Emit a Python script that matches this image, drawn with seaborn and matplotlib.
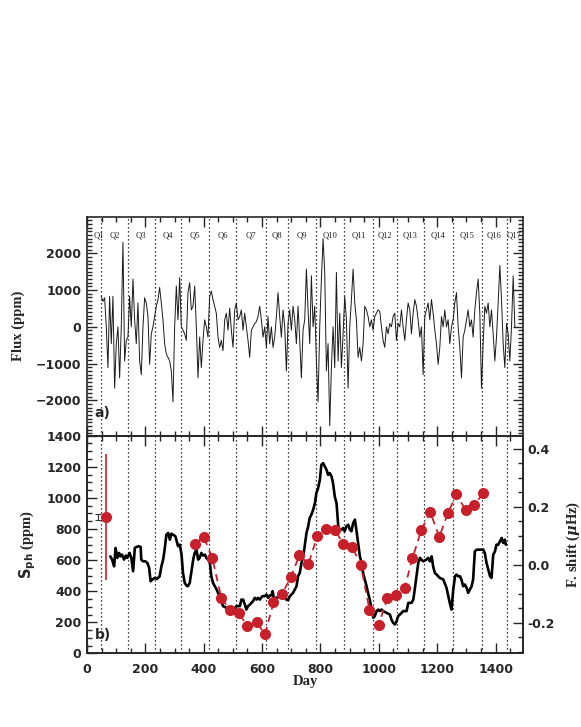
import matplotlib
matplotlib.use('Agg')
import matplotlib.pyplot as plt
import matplotlib.transforms as mtransforms
from matplotlib.ticker import MultipleLocator
import numpy as np
import pandas as pd
import seaborn as sns

# Kepler quarter boundaries (days) and names
quarter_edges = [29, 49.5, 140, 232, 323, 419, 510, 615, 688, 786, 881, 979,
                 1062, 1154, 1253, 1352, 1439, 1487]
quarter_names = ['Q1', 'Q2', 'Q3', 'Q4', 'Q5', 'Q6', 'Q7', 'Q8', 'Q9', 'Q10',
                 'Q11', 'Q12', 'Q13', 'Q14', 'Q15', 'Q16', 'Q17']

# a) light curve (regular cadence from day 49 to 1466)
flux_first_day, flux_last_day = 49, 1466
flux_ppm = [
    830, 690, 790, 0, -1110, 830, -460, 830, -1670, -460,
    0, -1390, 0, 2300, -930, -370, -280, 830, 0, 1300,
    190, -460, 650, -930, -1300, 0, 790, 650, 280, -1020,
    -190, 0, 280, 560, 740, 1070, 650, 190, -460, -740,
    -830, -930, -1200, -2040, 0, 1110, 190, 1340, 0, -90,
    -190, -370, 930, 1200, 460, 560, 1110, 0, -1390, -280,
    -1110, -370, 190, 0, -280, 830, 970, 740, 560, 370,
    -280, -560, -370, -650, 190, 370, -90, 510, -90, -560,
    460, 650, 190, 280, 460, -90, 370, 0, -370, -830,
    -90, 0, 90, 140, 280, 560, 190, -280, 0, -560,
    280, -460, 0, -560, -280, 280, 930, 280, -280, 460,
    0, -1200, 90, 460, -90, 560, 190, -460, 560, -370,
    -1390, -90, 190, 1570, 460, -460, 1390, 0, 560, -930,
    -2040, 0, 1300, 2400, 1480, -1200, -460, -2690, -1110, 0,
    -1110, 1480, -930, 370, -1110, -190, 830, 190, -1670, 0,
    740, 1570, 650, 190, -830, -560, -930, -460, 560, 460,
    280, 0, 190, -90, 280, 370, 460, 420, 0, -370,
    -560, 0, -190, 90, 0, 280, 370, -370, 90, 0,
    460, 0, -370, 190, 650, 460, -190, 370, 740, 560,
    190, -280, 0, -1300, 280, 460, 650, 190, 740, 370,
    -90, -460, -1020, -560, 280, 0, 460, 0, 190, -460,
    0, 190, 650, 930, 0, -560, -1390, -280, -90, 190,
    460, 0, 190, -280, 460, 930, 1300, 370, -1670, -460,
    560, 370, 650, 0, 460, -190, -930, -280, 650, 1670,
    740, -460, -1110, 90, -190, -930, 0, 1390, 0,
]

# b) photometric activity proxy S_ph
sph_day = [
    80, 86, 93, 98, 104, 110, 114, 120, 127, 133,
    138, 146, 152, 158, 164, 169, 178, 184, 186, 192,
    200, 207, 213, 218, 224, 232, 240, 249, 255, 261,
    266, 272, 278, 284, 289, 295, 303, 312, 318, 324,
    329, 335, 341, 346, 352, 358, 364, 369, 375, 381,
    386, 392, 398, 404, 409, 415, 421, 426, 432, 438,
    444, 449, 455, 461, 466, 478, 489, 501, 512, 524,
    529, 535, 541, 546, 552, 558, 569, 575, 581, 586,
    592, 601, 609, 615, 621, 626, 632, 636, 640, 649,
    661, 672, 683, 689, 695, 706, 718, 723, 729, 735,
    741, 746, 752, 758, 763, 769, 775, 781, 786, 792,
    798, 803, 809, 815, 821, 826, 832, 838, 843, 849,
    855, 861, 866, 872, 878, 883, 889, 895, 901, 906,
    912, 918, 923, 929, 935, 941, 946, 952, 958, 963,
    969, 975, 981, 986, 992, 998, 1003, 1009, 1015, 1026,
    1038, 1043, 1049, 1055, 1061, 1066, 1072, 1078, 1083, 1095,
    1101, 1106, 1112, 1118, 1123, 1129, 1135, 1141, 1146, 1152,
    1163, 1169, 1175, 1181, 1186, 1192, 1198, 1209, 1221, 1232,
    1243, 1249, 1255, 1261, 1266, 1272, 1278, 1283, 1289, 1295,
    1301, 1306, 1312, 1318, 1323, 1329, 1335, 1346, 1358, 1363,
    1369, 1375, 1381, 1386, 1392, 1398, 1403, 1409, 1415, 1421,
    1426, 1432, 1435,
]
sph_ppm = [
    624, 603, 560, 678, 614, 646, 624, 635, 603, 629,
    614, 646, 614, 528, 678, 684, 689, 684, 603, 592,
    592, 582, 550, 464, 475, 485, 479, 496, 560, 603,
    667, 763, 774, 731, 770, 763, 753, 689, 699, 635,
    517, 453, 436, 432, 453, 528, 603, 646, 667, 603,
    614, 646, 629, 635, 614, 603, 582, 496, 453, 432,
    411, 389, 368, 336, 304, 293, 293, 282, 304, 304,
    346, 346, 314, 282, 304, 314, 336, 357, 346, 357,
    346, 368, 368, 378, 357, 372, 374, 400, 357, 357,
    368, 378, 346, 342, 368, 389, 432, 496, 517, 582,
    624, 689, 774, 817, 870, 892, 924, 966, 1031, 1063,
    1116, 1212, 1223, 1202, 1180, 1148, 1159, 1137, 1095, 1009,
    966, 817, 795, 795, 806, 785, 817, 827, 795, 785,
    838, 860, 795, 710, 624, 582, 517, 475, 432, 389,
    346, 282, 229, 239, 272, 282, 272, 282, 272, 261,
    250, 218, 197, 186, 207, 239, 250, 261, 272, 272,
    325, 325, 325, 346, 411, 496, 582, 614, 603, 592,
    603, 614, 592, 624, 560, 517, 507, 485, 475, 421,
    325, 282, 411, 496, 507, 496, 496, 475, 432, 443,
    421, 389, 411, 432, 475, 656, 667, 667, 667, 646,
    582, 539, 496, 485, 635, 656, 699, 699, 720, 742,
    710, 731, 699,
]

# b) p-mode frequency shifts (right axis)
shift_day = [369, 400, 429, 460, 490, 520, 550, 581, 610, 639, 669, 698, 728,
             759, 789, 818, 850, 878, 909, 938, 968, 999, 1029, 1058, 1088,
             1115, 1146, 1176, 1207, 1237, 1266, 1297, 1327, 1358]
shift_uhz = [0.073, 0.096, 0.025, -0.113, -0.157, -0.168, -0.211, -0.199,
             -0.240, -0.130, -0.100, -0.043, 0.033, 0.004, 0.098, 0.123,
             0.119, 0.073, 0.061, 0.000, -0.155, -0.207, -0.116, -0.103,
             -0.081, 0.022, 0.121, 0.183, 0.096, 0.180, 0.243, 0.190,
             0.207, 0.248]

# representative error bars
shift_err_day, shift_err_value, shift_err_size = 66, 0.165, 0.219
sph_err_day, sph_err_value, sph_err_size = 38, 877, 22

RED = '#c8202a'

df_flux = pd.DataFrame({'day': np.linspace(flux_first_day, flux_last_day, len(flux_ppm)),
                        'flux': flux_ppm})
df_sph = pd.DataFrame({'day': sph_day, 'sph': sph_ppm})
df_shift = pd.DataFrame({'day': shift_day, 'shift': shift_uhz})

sns.set_style('ticks')
plt.rcParams['font.family'] = ['DejaVu Sans']
plt.rcParams['font.weight'] = 'bold'
plt.rcParams['axes.linewidth'] = 1.2
plt.rcParams['font.size'] = 9

fig = plt.figure(figsize=(5.81, 7.27), dpi=100)
ax1 = fig.add_axes([0.1497, 0.4008, 0.751, 0.3011])
ax2 = fig.add_axes([0.1497, 0.1012, 0.751, 0.2996])
ax2r = ax2.twinx()

label_font = dict(family='Liberation Serif', weight='bold', size=10.5)

# quarter boundaries
for ax in (ax1, ax2):
    for e in quarter_edges[1:-1]:
        ax.axvline(e, color='black', lw=0.9, ls=(0, (1, 2.2)), zorder=1)

# ---- panel a
sns.lineplot(data=df_flux, x='day', y='flux', ax=ax1, color='#1a1a1a', lw=0.7,
             estimator=None, sort=False, zorder=3)
ax1.set_xlim(0, 1495)
ax1.set_ylim(-2960, 2995)
ax1.xaxis.set_major_locator(MultipleLocator(200))
ax1.xaxis.set_minor_locator(MultipleLocator(50))
ax1.yaxis.set_major_locator(MultipleLocator(1000))
ax1.yaxis.set_minor_locator(MultipleLocator(100))
ax1.tick_params(which='both', direction='in', top=True, right=True,
                labelbottom=False, width=1.0)
ax1.tick_params(which='major', length=7, pad=4)
ax1.tick_params(which='minor', length=3.5)
ax1.set_xlabel('')
ax1.set_ylabel('Flux (ppm)', **label_font)
ax1.yaxis.set_label_coords(-0.142, 0.5)
ax1.text(0.018, 0.103, 'a)', transform=ax1.transAxes, fontsize=10,
         fontweight='bold', ha='left', va='center')

trans = mtransforms.blended_transform_factory(ax1.transData, ax1.transAxes)
for i, name in enumerate(quarter_names):
    mid = 0.5 * (quarter_edges[i] + quarter_edges[i + 1])
    ax1.text(mid, 0.916, name, transform=trans, ha='center', va='center',
             family='Liberation Serif', fontweight='normal', fontsize=6.2,
             clip_on=True)

# ---- panel b
sns.lineplot(data=df_sph, x='day', y='sph', ax=ax2, color='black', lw=1.9,
             estimator=None, sort=False, zorder=3)
ax2.errorbar(sph_err_day, sph_err_value, yerr=sph_err_size, color='#333333',
             lw=0.8, capsize=2, capthick=0.8)
ax2.set_xlim(0, 1495)
ax2.set_ylim(0, 1400)
ax2.xaxis.set_major_locator(MultipleLocator(200))
ax2.xaxis.set_minor_locator(MultipleLocator(50))
ax2.yaxis.set_major_locator(MultipleLocator(200))
ax2.yaxis.set_minor_locator(MultipleLocator(50))
ax2.tick_params(which='both', direction='in', top=True, right=False, width=1.0)
ax2.tick_params(which='major', length=7, pad=4)
ax2.tick_params(axis='x', which='major', pad=7)
ax2.tick_params(which='minor', length=3.5)
ax2.set_xlabel('Day', **label_font)
ax2.xaxis.set_label_coords(0.5, -0.1)
ax2.set_ylabel(r'$\mathbf{S_{ph}}$ (ppm)', **label_font)
ax2.yaxis.label.set_math_fontfamily('dejavusans')
ax2.yaxis.set_label_coords(-0.112, 0.5)
ax2.text(0.018, 0.085, 'b)', transform=ax2.transAxes, fontsize=10,
         fontweight='bold', ha='left', va='center')

sns.lineplot(data=df_shift, x='day', y='shift', ax=ax2r, color=RED, lw=1.3,
             linestyle=(0, (4, 3)), marker='o', markersize=8,
             markeredgewidth=0, estimator=None, sort=False)
ax2r.errorbar(shift_err_day, shift_err_value, yerr=shift_err_size, color=RED,
              lw=1.2, capsize=2.2, capthick=1.2, marker='o', markersize=8,
              markeredgewidth=0)
ax2r.set_ylim(-0.306, 0.446)
ax2r.yaxis.set_major_locator(MultipleLocator(0.2))
ax2r.yaxis.set_minor_locator(MultipleLocator(0.05))
ax2r.yaxis.set_major_formatter(matplotlib.ticker.FormatStrFormatter('%.1f'))
ax2r.tick_params(which='both', direction='in', width=1.0)
ax2r.tick_params(which='major', length=7, pad=3)
ax2r.tick_params(which='minor', length=3.5)
ax2r.set_ylabel(r'F. shift ($\mu$Hz)', **label_font)
ax2r.yaxis.label.set_math_fontfamily('dejavuserif')
ax2r.yaxis.set_label_coords(1.095, 0.5)

fig.savefig('out.png', dpi=100)
